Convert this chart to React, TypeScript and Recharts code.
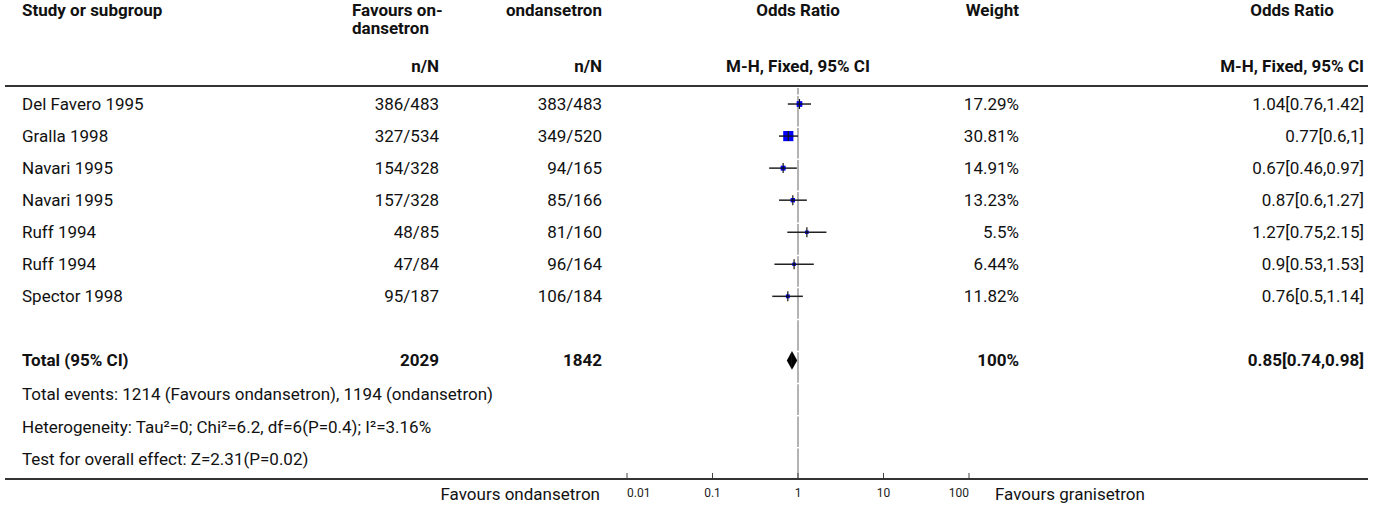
import React from 'react';
import { ComposedChart, Scatter, XAxis, YAxis, ReferenceLine, ReferenceArea, ErrorBar } from 'recharts';

const studies = ['Del Favero 1995', 'Gralla 1998', 'Navari 1995', 'Navari 1995', 'Ruff 1994', 'Ruff 1994', 'Spector 1998'];
const eventsOndansetron = ['386/483', '327/534', '154/328', '157/328', '48/85', '47/84', '95/187'];
const eventsControl = ['383/483', '349/520', '94/165', '85/166', '81/160', '96/164', '106/184'];
const weights = [17.29, 30.81, 14.91, 13.23, 5.5, 6.44, 11.82];
const oddsRatios = [1.04, 0.77, 0.67, 0.87, 1.27, 0.9, 0.76];
const ciLow = [0.76, 0.6, 0.46, 0.6, 0.75, 0.53, 0.5];
const ciHigh = [1.42, 1, 0.97, 1.27, 2.15, 1.53, 1.14];

const totalN = [2029, 1842];
const totalOR = 0.85;
const totalLow = 0.74;
const totalHigh = 0.98;
const totalRow = 8;

const footnotes = [
  'Total events: 1214 (Favours ondansetron), 1194 (ondansetron)',
  'Heterogeneity: Tau\u00b2=0; Chi\u00b2=6.2, df=6(P=0.4); I\u00b2=3.16%',
  'Test for overall effect: Z=2.31(P=0.02)',
];

const axisTicks = [0.01, 0.1, 1, 10, 100];

const W = 1373;
const H = 509;
const FONT = 'Roboto, "Noto Sans", sans-serif';
const FS = 17;

// row geometry shared by chart y-axis and the text table
const PLOT_TOP = 88;
const PLOT_BOTTOM = 479;
const ROW_SPAN = 12.2;
const rowH = (PLOT_BOTTOM - PLOT_TOP) / ROW_SPAN;
const rowY = (i: number) => PLOT_TOP + (i + 0.5) * rowH;

const COL_STUDY = 22;
const COL_A = 439;
const COL_B = 602;
const COL_PLOT = 798;
const COL_WEIGHT = 1019;
const COL_OR = 1364;

const points = oddsRatios.map((or, i) => ({
  or,
  row: i + 0.5,
  w: weights[i],
  err: [or - ciLow[i], ciHigh[i] - or],
}));

const SquareMarker = (props: any) => {
  const { cx, cy, payload } = props;
  const s = Math.max(3.5, payload.w * 0.33);
  return (
    <g>
      <rect x={cx - s / 2} y={cy - s / 2} width={s} height={s} fill="#0000ff" />
      <line x1={cx} x2={cx} y1={cy - 5} y2={cy + 5} stroke="#111" strokeWidth={1.2} />
      <line x1={cx - s / 2} x2={cx + s / 2} y1={cy} y2={cy} stroke="#111" strokeWidth={1.2} />
    </g>
  );
};

const AxisTick = (props: any) => {
  const { x, y, payload, index } = props;
  const anchor = index === 0 ? 'start' : index === axisTicks.length - 1 ? 'end' : 'middle';
  return (
    <g>
      <line x1={x} x2={x} y1={y - 6} y2={y} stroke="#444" strokeWidth={1} />
      <text x={x} y={y + 18} textAnchor={anchor} fontSize={12} fontFamily={FONT} fill="#222">
        {payload.value}
      </text>
    </g>
  );
};

const LeftHalf = (p: any) => (
  <polygon points={`${p.x},${p.y + p.height / 2} ${p.x + p.width},${p.y} ${p.x + p.width},${p.y + p.height}`} fill="#000" />
);
const RightHalf = (p: any) => (
  <polygon points={`${p.x},${p.y} ${p.x + p.width},${p.y + p.height / 2} ${p.x},${p.y + p.height}`} fill="#000" />
);

type TextProps = {
  x: number;
  y: number;
  align?: 'left' | 'right' | 'center';
  bold?: boolean;
  size?: number;
  children: React.ReactNode;
};

const Txt = ({ x, y, align = 'left', bold = false, size = FS, children }: TextProps) => {
  const pos: React.CSSProperties =
    align === 'right'
      ? { right: W - x, textAlign: 'right' }
      : align === 'center'
      ? { left: x - 150, width: 300, textAlign: 'center' }
      : { left: x };
  return (
    <div
      style={{
        position: 'absolute',
        top: y - 11,
        height: 22,
        lineHeight: '22px',
        fontSize: size,
        fontWeight: bold ? 700 : 400,
        whiteSpace: 'nowrap',
        color: '#111',
        ...pos,
      }}
    >
      {children}
    </div>
  );
};

export default function App() {
  return (
    <div style={{ position: 'absolute', left: 0, top: 0, width: W, height: H, background: '#fff', fontFamily: FONT }}>
      <div style={{ position: 'absolute', left: 0, top: 0 }}>
        <ComposedChart width={W} height={H} margin={{ top: PLOT_TOP, right: W - 969, left: 627, bottom: 0 }}>
          <XAxis
            type="number"
            dataKey="or"
            scale="log"
            domain={[0.01, 100]}
            ticks={axisTicks}
            allowDataOverflow
            height={H - PLOT_BOTTOM}
            axisLine={false}
            tickLine={false}
            tickSize={0}
            tickMargin={0}
            tick={<AxisTick />}
            interval={0}
          />
          <YAxis type="number" dataKey="row" domain={[0, ROW_SPAN]} reversed hide />
          <ReferenceLine x={1} stroke="#9a9a9a" strokeWidth={1.5} strokeDasharray={`${rowH - 1.5} 1.5`} />
          <Scatter data={points} shape={<SquareMarker />} isAnimationActive={false}>
            <ErrorBar dataKey="err" direction="x" width={0} stroke="#222" strokeWidth={1.5} />
          </Scatter>
          <ReferenceArea
            x1={totalLow}
            x2={totalOR}
            y1={totalRow + 0.5 - 0.29}
            y2={totalRow + 0.5 + 0.29}
            shape={LeftHalf}
            ifOverflow="visible"
          />
          <ReferenceArea
            x1={totalOR}
            x2={totalHigh}
            y1={totalRow + 0.5 - 0.29}
            y2={totalRow + 0.5 + 0.29}
            shape={RightHalf}
            ifOverflow="visible"
          />
        </ComposedChart>
      </div>

      {/* rules */}
      <div style={{ position: 'absolute', left: 5, width: W - 10, top: 85, height: 2, background: '#333' }} />
      <div style={{ position: 'absolute', left: 5, width: W - 10, top: 478, height: 2, background: '#333' }} />

      {/* header */}
      <Txt x={COL_STUDY} y={10} bold>Study or subgroup</Txt>
      <Txt x={352} y={10} bold>Favours on-</Txt>
      <Txt x={352} y={28} bold>dansetron</Txt>
      <Txt x={COL_B} y={10} align="right" bold>ondansetron</Txt>
      <Txt x={COL_PLOT} y={10} align="center" bold>Odds Ratio</Txt>
      <Txt x={COL_WEIGHT} y={10} align="right" bold>Weight</Txt>
      <Txt x={COL_A} y={66} align="right" bold>n/N</Txt>
      <Txt x={COL_B} y={66} align="right" bold>n/N</Txt>
      <Txt x={COL_PLOT} y={66} align="center" bold>M-H, Fixed, 95% CI</Txt>
      <div
        style={{
          position: 'absolute',
          top: -1,
          right: W - COL_OR,
          height: 78,
          display: 'flex',
          flexDirection: 'column',
          alignItems: 'center',
          justifyContent: 'space-between',
          fontSize: FS,
          fontWeight: 700,
          lineHeight: '22px',
          color: '#111',
          whiteSpace: 'nowrap',
        }}
      >
        <div>Odds Ratio</div>
        <div>M-H, Fixed, 95% CI</div>
      </div>

      {/* studies */}
      {studies.map((s, i) => (
        <React.Fragment key={i}>
          <Txt x={COL_STUDY} y={rowY(i)}>{s}</Txt>
          <Txt x={COL_A} y={rowY(i)} align="right">{eventsOndansetron[i]}</Txt>
          <Txt x={COL_B} y={rowY(i)} align="right">{eventsControl[i]}</Txt>
          <Txt x={COL_WEIGHT} y={rowY(i)} align="right">{weights[i]}%</Txt>
          <Txt x={COL_OR} y={rowY(i)} align="right">
            {oddsRatios[i]}[{ciLow[i]},{ciHigh[i]}]
          </Txt>
        </React.Fragment>
      ))}

      {/* total */}
      <Txt x={COL_STUDY} y={rowY(totalRow)} bold>Total (95% CI)</Txt>
      <Txt x={COL_A} y={rowY(totalRow)} align="right" bold>{totalN[0]}</Txt>
      <Txt x={COL_B} y={rowY(totalRow)} align="right" bold>{totalN[1]}</Txt>
      <Txt x={COL_WEIGHT} y={rowY(totalRow)} align="right" bold>100%</Txt>
      <Txt x={COL_OR} y={rowY(totalRow)} align="right" bold>
        {totalOR}[{totalLow},{totalHigh}]
      </Txt>
      {footnotes.map((f, i) => (
        <Txt key={f} x={COL_STUDY} y={rowY(totalRow + 1 + i) + 2}>{f}</Txt>
      ))}

      {/* axis captions */}
      <Txt x={600} y={494} align="right">Favours ondansetron</Txt>
      <Txt x={995} y={494}>Favours granisetron</Txt>
    </div>
  );
}
